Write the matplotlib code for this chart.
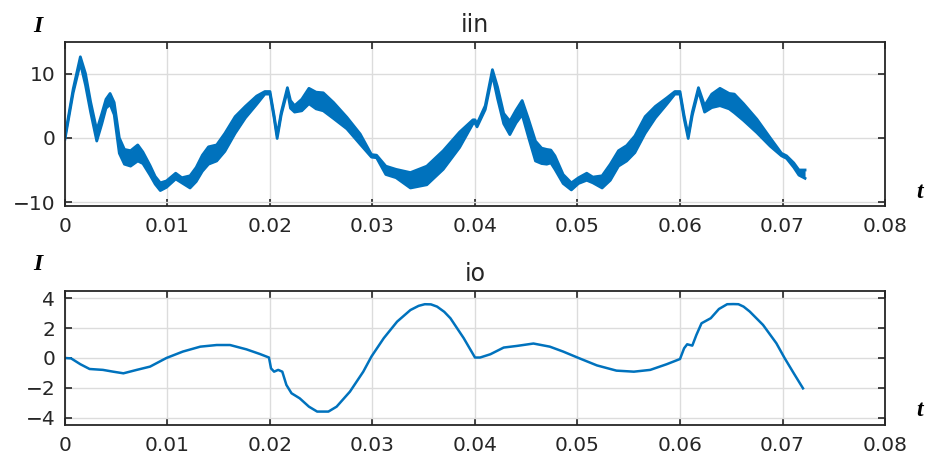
import matplotlib
matplotlib.use("Agg")
import matplotlib.pyplot as plt

# input current iin: the trace is a thick ripple band, stored as upper / lower edge
t_in = [0.0000, 0.0008, 0.0015, 0.0020, 0.0025, 0.0031, 0.0036, 0.0040, 0.0044, 0.0048,
        0.0053, 0.0058, 0.0064, 0.0071, 0.0076, 0.0083, 0.0088, 0.0093, 0.0099, 0.0108,
        0.0114, 0.0122, 0.0128, 0.0134, 0.0140, 0.0148, 0.0156, 0.0166, 0.0176, 0.0187,
        0.0195, 0.0200, 0.0204, 0.0207, 0.0211, 0.0217, 0.0220, 0.0224, 0.0231, 0.0238,
        0.0245, 0.0252, 0.0262, 0.0275, 0.0288, 0.0299, 0.0304, 0.0313, 0.0323, 0.0337,
        0.0353, 0.0369, 0.0385, 0.0398, 0.0400, 0.0402, 0.0410, 0.0417, 0.0422, 0.0428,
        0.0434, 0.0440, 0.0446, 0.0452, 0.0459, 0.0465, 0.0470, 0.0474, 0.0478, 0.0486,
        0.0494, 0.0501, 0.0509, 0.0515, 0.0524, 0.0532, 0.0540, 0.0548, 0.0556, 0.0566,
        0.0576, 0.0587, 0.0595, 0.0600, 0.0604, 0.0608, 0.0612, 0.0618, 0.0624, 0.0631,
        0.0639, 0.0648, 0.0653, 0.0662, 0.0675, 0.0688, 0.0699, 0.0704, 0.0711, 0.0716,
        0.0722]
iin_hi = [0.2, 7.6, 12.6, 10.0, 5.6, 1.2, 3.8, 6.0, 6.9, 5.5,
          0.0, -1.8, -2.0, -1.1, -2.2, -4.3, -6.0, -7.0, -6.7, -5.5,
          -6.2, -5.9, -4.6, -2.7, -1.4, -1.1, 0.7, 3.3, 4.9, 6.5,
          7.2, 7.2, 3.5, 0.4, 4.0, 7.8, 5.8, 5.0, 6.0, 7.7,
          7.1, 7.0, 5.5, 3.2, 0.6, -2.6, -2.7, -4.4, -4.9, -5.4,
          -4.4, -2.0, 0.9, 2.8, 2.8, 2.2, 5.0, 10.6, 7.9, 3.8,
          2.6, 4.3, 5.8, 3.0, -0.5, -1.6, -1.8, -1.9, -2.8, -5.7,
          -7.0, -6.2, -5.5, -6.1, -5.9, -4.1, -2.0, -1.2, 0.3, 3.3,
          4.9, 6.2, 7.2, 7.2, 3.5, 0.4, 4.0, 7.8, 5.0, 6.8,
          7.7, 6.9, 6.8, 5.3, 2.9, 0.0, -2.4, -2.8, -3.9, -5.0,
          -5.0]
iin_lo = [-0.2, 7.0, 11.6, 8.2, 4.0, -0.5, 2.2, 4.6, 5.2, 3.6,
          -2.4, -4.1, -4.4, -3.6, -4.0, -5.8, -7.2, -8.2, -7.7, -6.4,
          -7.0, -7.8, -6.8, -5.2, -4.1, -3.6, -2.1, 0.7, 3.1, 5.2,
          6.8, 6.8, 3.1, -0.1, 3.6, 7.3, 4.6, 4.0, 4.2, 5.3,
          4.5, 4.2, 3.0, 1.4, -1.0, -3.0, -3.1, -5.7, -6.2, -7.8,
          -7.3, -4.9, -1.5, 2.2, 2.3, 1.7, 4.4, 9.8, 6.1, 2.2,
          0.5, 2.3, 3.6, 0.2, -3.6, -4.0, -4.1, -3.9, -4.9, -7.1,
          -8.1, -7.1, -6.6, -7.0, -7.8, -6.6, -4.4, -3.6, -2.3, 0.7,
          3.1, 5.2, 6.8, 6.8, 3.0, -0.1, 3.5, 7.3, 4.0, 4.7,
          5.0, 4.5, 3.9, 2.7, 0.8, -1.3, -2.8, -3.2, -4.6, -5.8,
          -6.3]

# output current io
t_o = [0.0000, 0.0006, 0.0015, 0.0024, 0.0037, 0.0047, 0.0057, 0.0070, 0.0083, 0.0099,
       0.0115, 0.0132, 0.0148, 0.0161, 0.0177, 0.0190, 0.0199, 0.0201, 0.0204, 0.0208,
       0.0212, 0.0216, 0.0221, 0.0229, 0.0238, 0.0246, 0.0257, 0.0265, 0.0278, 0.0291,
       0.0299, 0.0311, 0.0324, 0.0337, 0.0345, 0.0351, 0.0357, 0.0363, 0.0370, 0.0376,
       0.0389, 0.0400, 0.0405, 0.0415, 0.0428, 0.0441, 0.0457, 0.0473, 0.0486, 0.0501,
       0.0519, 0.0538, 0.0555, 0.0571, 0.0587, 0.0600, 0.0604, 0.0607, 0.0612, 0.0616,
       0.0621, 0.0630, 0.0638, 0.0646, 0.0652, 0.0657, 0.0662, 0.0668, 0.0681, 0.0694,
       0.0702, 0.0711, 0.0720]
io = [0.0, -0.03, -0.42, -0.74, -0.8, -0.92, -1.03, -0.8, -0.58, 0.0,
      0.43, 0.76, 0.87, 0.87, 0.58, 0.27, 0.03, -0.7, -0.92, -0.8,
      -0.92, -1.81, -2.37, -2.71, -3.27, -3.6, -3.6, -3.27, -2.26, -0.92,
      0.1, 1.33, 2.44, 3.22, 3.5, 3.61, 3.6, 3.45, 3.1, 2.67,
      1.33, 0.03, 0.03, 0.25, 0.7, 0.81, 0.97, 0.76, 0.43, 0.0,
      -0.5, -0.85, -0.92, -0.8, -0.42, -0.07, 0.65, 0.92, 0.83, 1.55,
      2.33, 2.67, 3.29, 3.61, 3.62, 3.61, 3.45, 3.12, 2.22, 0.99,
      0.0, -1.03, -2.04]

x_ticks = [0, 0.01, 0.02, 0.03, 0.04, 0.05, 0.06, 0.07, 0.08]
x_labels = ['0', '0.01', '0.02', '0.03', '0.04', '0.05', '0.06', '0.07', '0.08']

blue = '#0072BD'
dark = '#262626'

plt.rcParams['font.family'] = 'DejaVu Sans'

fig = plt.figure(figsize=(9.27, 4.58), dpi=100)
ax1 = fig.add_axes([0.0701, 0.5502, 0.8846, 0.3581])
ax2 = fig.add_axes([0.0701, 0.0721, 0.8846, 0.2926])


def style(ax, yticks, title):
    ax.set_xlim(0, 0.08)
    ax.set_xticks(x_ticks)
    ax.set_xticklabels(x_labels)
    ax.set_yticks(yticks)
    ax.grid(True, color='#dcdcdc', linewidth=1)
    ax.set_axisbelow(True)
    ax.tick_params(direction='in', top=True, right=True, length=5, width=1.2,
                   colors=dark, labelsize=14.5)
    ax.tick_params(axis='x', pad=8)
    ax.tick_params(axis='y', pad=7)
    for s in ax.spines.values():
        s.set_color(dark)
        s.set_linewidth(1.3)
    ax.set_title(title, fontsize=17, color=dark, pad=7)


# top: iin band
ax1.fill_between(t_in, iin_lo, iin_hi, color=blue, linewidth=0)
ax1.plot(t_in, iin_hi, color=blue, linewidth=2, solid_joinstyle='round')
ax1.plot(t_in, iin_lo, color=blue, linewidth=2, solid_joinstyle='round')
ax1.set_ylim(-10.6, 14.9)
style(ax1, [-10, 0, 10], 'iin')

# bottom: io
ax2.plot(t_o, io, color=blue, linewidth=1.8, solid_joinstyle='round')
ax2.set_ylim(-4.5, 4.5)
style(ax2, [-4, -2, 0, 2, 4], 'io')

# axis letters
lbl = dict(family='Liberation Serif', weight='bold', style='italic', fontsize=17,
           color='black', ha='center', va='center')
fig.text(38 / 927, 1 - 26 / 458, 'I', **lbl)
fig.text(38 / 927, 1 - 265 / 458, 'I', **lbl)
fig.text(920 / 927, 1 - 192 / 458, 't', **lbl)
fig.text(920 / 927, 1 - 410 / 458, 't', **lbl)

fig.savefig('out.png', dpi=100)
